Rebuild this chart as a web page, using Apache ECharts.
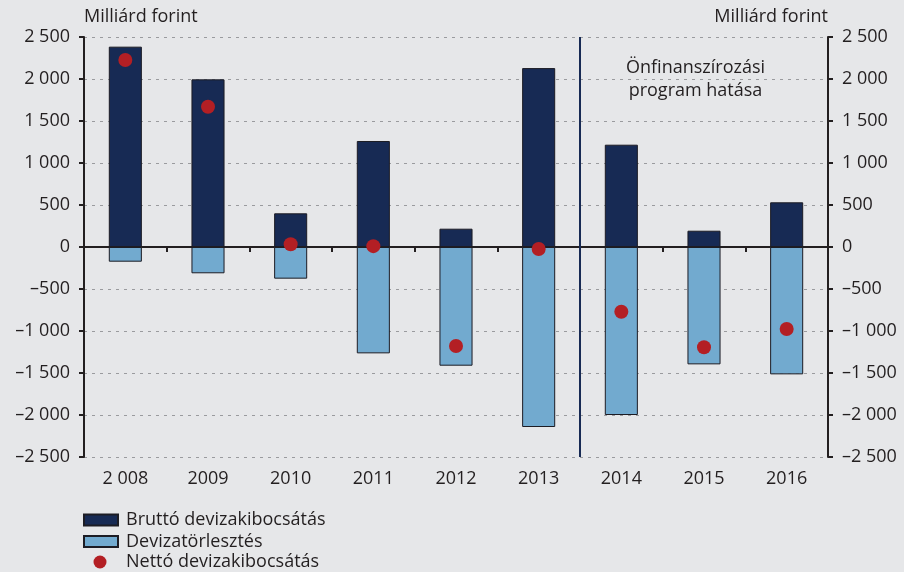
<!DOCTYPE html>
<html>
<head>
<meta charset="utf-8">
<title>Devizakibocsátás</title>
<script src="https://cdn.jsdelivr.net/npm/echarts@6/dist/echarts.min.js"></script>
<style>
  html, body { margin: 0; padding: 0; background: #e6e7e9; }
  #chart { width: 904px; height: 572px; }
</style>
</head>
<body>
<div id="chart"></div>
<script>
// 数据
var years = ['2 008', '2009', '2010', '2011', '2012', '2013', '2014', '2015', '2016'];
var brutto = [2385, 1996, 401, 1262, 218, 2130, 1218, 194, 532];
var torlesztes = [-175, -313, -377, -1266, -1413, -2143, -2000, -1397, -1516];
var netto = [2226, 1670, 32, 10, -1179, -24, -770, -1194, -976];
var yTicks = [-2500, 2500, 500]; // min, max, interval
var dividerAt = 6; // 2013 és 2014 között
var noteText = 'Önfinanszírozási\nprogram hatása';
var legendNames = ['Bruttó devizakibocsátás', 'Devizatörlesztés', 'Nettó devizakibocsátás'];

(function() {
  var font = '"Open Sans", "DejaVu Sans", sans-serif';
  var ink = '#231f20';

  // 千位空格 + 破折号
  function fmt(v) {
    var s = String(Math.abs(v)).replace(/\B(?=(\d{3})+(?!\d))/g, ' ');
    return (v < 0 ? '\u2013' : '') + s;
  }

  function yAxisCfg(side) {
    return {
      type: 'value',
      position: side,
      min: yTicks[0],
      max: yTicks[1],
      interval: yTicks[2],
      name: 'Milliárd forint',
      nameLocation: 'end',
      nameGap: 11,
      nameTextStyle: {
        color: ink, fontFamily: font, fontSize: 18,
        align: side === 'left' ? 'left' : 'right'
      },
      axisLine: { show: true, lineStyle: { color: ink, width: 2 } },
      axisTick: { show: true, length: 5, lineStyle: { color: ink, width: 2 } },
      axisLabel: {
        color: ink, fontFamily: font, fontSize: 18, margin: 14,
        formatter: fmt
      },
      splitLine: {
        show: side === 'left',
        lineStyle: { color: '#9a9b9e', type: [3, 5], width: 1 }
      }
    };
  }

  // 每个图例单独一行；圆点居中在方块的位置（图例自带 5px padding）
  function legendCfg(i) {
    var dot = i === 2;
    return {
      orient: 'vertical',
      left: dot ? 88.5 : 78,
      top: dot ? 548 : 506 + i * 21.5,
      itemWidth: dot ? 13 : 34,
      itemHeight: dot ? 13 : 11,
      textStyle: {
        color: ink, fontFamily: font, fontSize: 18,
        padding: [0, 0, 0, dot ? 14.5 : 3]
      },
      data: [{ name: legendNames[i], icon: dot ? 'circle' : 'rect' }]
    };
  }

  var chart = echarts.init(document.getElementById('chart'), null, { renderer: 'canvas' });

  chart.setOption({
    backgroundColor: '#e6e7e9',
    animation: false,
    grid: { left: 84, right: 76, top: 37, bottom: 115 },
    legend: [legendCfg(0), legendCfg(1), legendCfg(2)],
    xAxis: [{
      // 标签（底部）
      type: 'category',
      data: years,
      position: 'bottom',
      axisLine: { show: false, onZero: false },
      axisTick: { show: false },
      axisLabel: { color: ink, fontFamily: font, fontSize: 18, margin: 13 }
    }, {
      // 零线
      type: 'category',
      data: years,
      position: 'bottom',
      axisLine: { show: true, onZero: true, lineStyle: { color: ink, width: 2 } },
      axisTick: { show: true, length: 5, inside: false, lineStyle: { color: ink, width: 2 } },
      axisLabel: { show: false }
    }, {
      // 分隔线用
      type: 'value',
      min: 0,
      max: years.length,
      show: false
    }],
    yAxis: [yAxisCfg('left'), yAxisCfg('right')],
    graphic: [{
      type: 'text',
      left: 626,
      top: 56,
      style: {
        text: noteText,
        fill: ink,
        font: '18px ' + font,
        textAlign: 'center',
        lineHeight: 23
      }
    }],
    series: [{
      name: legendNames[0],
      type: 'bar',
      xAxisIndex: 0,
      data: brutto,
      barWidth: '40%',
      barGap: '-100%',
      itemStyle: { color: '#172a54', borderColor: '#1c1c24', borderWidth: 1 },
      z: 3
    }, {
      name: legendNames[1],
      type: 'bar',
      xAxisIndex: 0,
      data: torlesztes,
      barWidth: '40%',
      itemStyle: { color: '#72aacf', borderColor: '#1c1c24', borderWidth: 1 },
      z: 3
    }, {
      name: legendNames[2],
      type: 'scatter',
      xAxisIndex: 0,
      data: netto,
      symbol: 'circle',
      symbolSize: 14,
      itemStyle: { color: '#b31f24', opacity: 1 },
      z: 6
    }, {
      name: 'divider',
      type: 'line',
      xAxisIndex: 2,
      data: [[dividerAt, yTicks[1]], [dividerAt, yTicks[0]]],
      symbol: 'none',
      lineStyle: { color: '#172a54', width: 2 },
      silent: true,
      z: 5
    }]
  });
})();
</script>
</body>
</html>
